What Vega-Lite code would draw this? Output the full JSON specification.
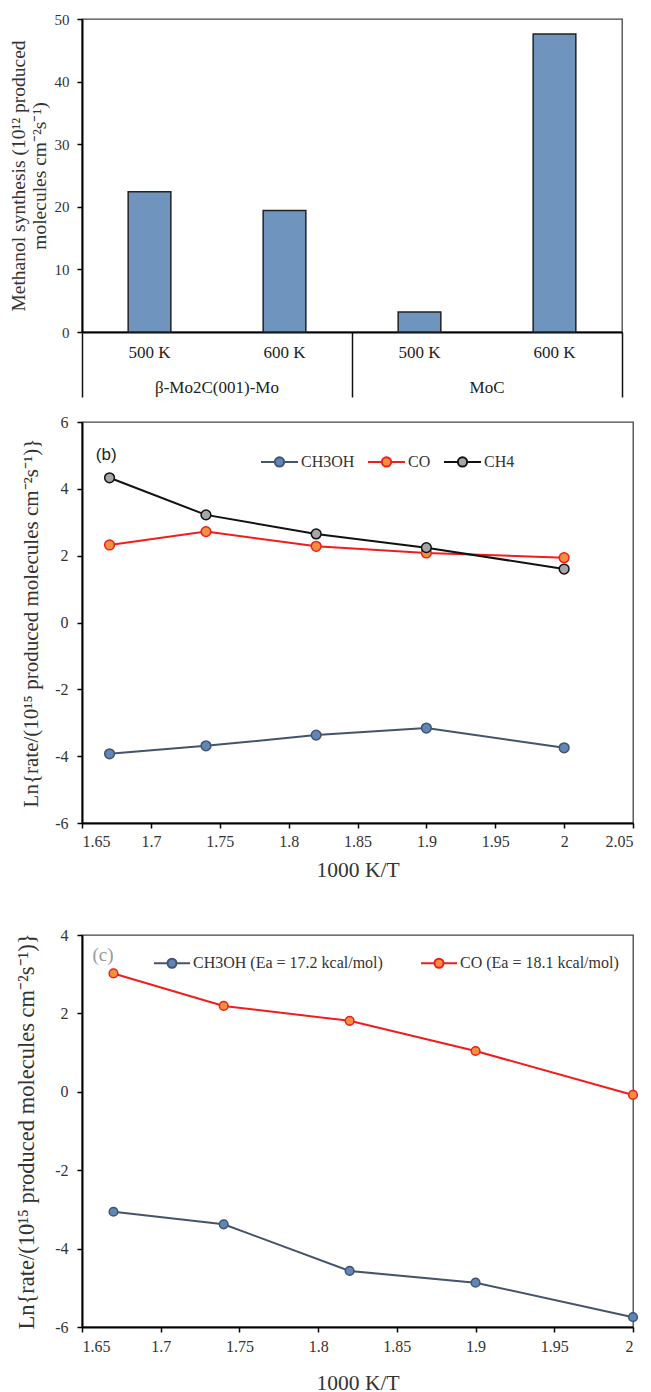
{
  "$schema": "https://vega.github.io/schema/vega-lite/v6.json",
  "padding": {"left": 7, "top": 11, "right": 5, "bottom": 0},
  "config": {
    "font": "Liberation Serif",
    "view": {"stroke": "#444", "strokeWidth": 1.3},
    "axis": {"grid": false, "domainColor": "#000", "domainWidth": 2, "tickColor": "#000", "tickWidth": 1.5, "tickSize": 5,
      "labelColor": "#333", "labelFont": "Liberation Serif", "titleFont": "Liberation Serif", "titleFontWeight": "normal", "titleColor": "#333"},
    "legend": {"labelFont": "Liberation Serif", "labelLimit": 400}
  },
  "spacing": 44,
  "resolve": {"scale": {"color": "independent", "fill": "independent", "stroke": "independent"}, "legend": {"color": "independent", "fill": "independent", "stroke": "independent"}},
  "vconcat": [
    {
      "spacing": 14,
      "resolve": {"scale": {"color": "independent", "fill": "independent", "stroke": "independent"}, "legend": {"color": "independent", "fill": "independent", "stroke": "independent"}},
      "vconcat": [
        {
          "width": 540,
          "height": 313,
          "data": {"values": [
            {"sample": "β-Mo2C(001)-Mo", "temp": "500 K", "rate": 22.4},
            {"sample": "β-Mo2C(001)-Mo", "temp": "600 K", "rate": 19.4},
            {"sample": "MoC", "temp": "500 K", "rate": 3.2},
            {"sample": "MoC", "temp": "600 K", "rate": 47.6}
          ]},
          "encoding": {
            "x": {"field": "sample", "type": "nominal", "sort": null,
              "scale": {"paddingInner": 0, "paddingOuter": 0},
              "axis": {"title": null, "bandPosition": 1, "tickExtra": true, "tickSize": 65, "tickColor": "#111", "tickWidth": 1.5,
                "labelPadding": -18, "labelAngle": 0, "labelFontSize": 17, "labelColor": "#222"}},
            "xOffset": {"field": "temp", "type": "nominal", "sort": null, "scale": {"paddingInner": 0.684, "paddingOuter": 0.342}}
          },
          "layer": [
            {
              "mark": {"type": "bar", "fill": "#6F94BE", "stroke": "#222", "strokeWidth": 1.5},
              "encoding": {
                "y": {"field": "rate", "type": "quantitative", "scale": {"domain": [0, 50], "nice": false},
                  "axis": {"values": [0, 10, 20, 30, 40, 50], "labelFontSize": 15, "labelPadding": 8,
                    "title": ["Methanol synthesis (10¹² produced", "molecules cm⁻²s⁻¹)"], "titleFontSize": 19.5, "titleLineHeight": 21, "titlePadding": 5}}
              }
            },
            {
              "mark": {"type": "text", "fontSize": 17, "baseline": "middle", "align": "center", "color": "#222"},
              "encoding": {
                "y": {"datum": -3.4, "type": "quantitative"},
                "text": {"field": "temp"}
              }
            }
          ]
        },
        {
          "width": 551,
          "height": 401,
          "data": {"values": [
            {"series": "CH3OH", "x": 1.67, "y": -3.93}, {"series": "CH3OH", "x": 1.74, "y": -3.69}, {"series": "CH3OH", "x": 1.82, "y": -3.37}, {"series": "CH3OH", "x": 1.9, "y": -3.16}, {"series": "CH3OH", "x": 2.0, "y": -3.75},
            {"series": "CO", "x": 1.67, "y": 2.32}, {"series": "CO", "x": 1.74, "y": 2.72}, {"series": "CO", "x": 1.82, "y": 2.28}, {"series": "CO", "x": 1.9, "y": 2.08}, {"series": "CO", "x": 2.0, "y": 1.94},
            {"series": "CH4", "x": 1.67, "y": 4.33}, {"series": "CH4", "x": 1.74, "y": 3.22}, {"series": "CH4", "x": 1.82, "y": 2.65}, {"series": "CH4", "x": 1.9, "y": 2.24}, {"series": "CH4", "x": 2.0, "y": 1.6}
          ]},
          "encoding": {
            "x": {"field": "x", "type": "quantitative", "scale": {"domain": [1.65, 2.05], "nice": false, "zero": false},
              "axis": {"title": "1000 K/T", "values": [1.65, 1.7, 1.75, 1.8, 1.85, 1.9, 1.95, 2, 2.05], "labelExpr": "'' + datum.value",
                "labelFontSize": 16, "labelPadding": 5, "titleFontSize": 21.5, "titlePadding": 10}},
            "y": {"field": "y", "type": "quantitative", "scale": {"domain": [-6, 6], "nice": false, "zero": false},
              "axis": {"title": "Ln{rate/(10¹⁵ produced molecules cm⁻²s⁻¹)}", "values": [-6, -4, -2, 0, 2, 4, 6], "labelExpr": "'' + datum.value",
                "labelFontSize": 16, "labelPadding": 9, "titleFontSize": 21, "titlePadding": 13}}
          },
          "layer": [
            {
              "mark": {"type": "line", "strokeWidth": 2},
              "encoding": {
                "stroke": {"field": "series", "type": "nominal",
                  "scale": {"domain": ["CH3OH", "CO", "CH4"], "range": ["#44546A", "#F21C1C", "#111111"]},
                  "legend": {"title": null, "orient": "none", "legendX": 178, "legendY": 20, "direction": "horizontal", "padding": 0,
                    "symbolType": "M-1,0H-0.25M0.25,0H1M0.25,0A0.25,0.25 0 1,1 -0.25,0A0.25,0.25 0 1,1 0.25,0Z",
                    "symbolSize": 1369, "symbolStrokeWidth": 2, "labelFontSize": 16, "labelColor": "#333", "labelOffset": 2, "columnPadding": 9}}
              }
            },
            {
              "mark": {"type": "point", "shape": "circle", "filled": true, "size": 95, "strokeWidth": 1.5, "opacity": 1},
              "encoding": {
                "stroke": {"field": "series", "type": "nominal",
                  "scale": {"domain": ["CH3OH", "CO", "CH4"], "range": ["#44546A", "#F21C1C", "#111111"]},
                  "legend": {"title": null, "orient": "none", "legendX": 178, "legendY": 20, "direction": "horizontal", "padding": 0,
                    "symbolType": "M-1,0H-0.25M0.25,0H1M0.25,0A0.25,0.25 0 1,1 -0.25,0A0.25,0.25 0 1,1 0.25,0Z",
                    "symbolSize": 1369, "symbolStrokeWidth": 2, "labelFontSize": 16, "labelColor": "#333", "labelOffset": 2, "columnPadding": 9}},
                "fill": {"field": "series", "type": "nominal",
                  "scale": {"domain": ["CH3OH", "CO", "CH4"], "range": ["#5E86B8", "#F0923D", "#A6A6A6"]},
                  "legend": {"title": null, "orient": "none", "legendX": 178, "legendY": 20, "direction": "horizontal", "padding": 0,
                    "symbolType": "M-1,0H-0.25M0.25,0H1M0.25,0A0.25,0.25 0 1,1 -0.25,0A0.25,0.25 0 1,1 0.25,0Z",
                    "symbolSize": 1369, "symbolStrokeWidth": 2, "labelFontSize": 16, "labelColor": "#333", "labelOffset": 2, "columnPadding": 9}}
              }
            },
            {
              "transform": [{"filter": "datum.series == 'CH4' && datum.x == 1.67"}],
              "mark": {"type": "text", "text": "(b)", "font": "Liberation Sans", "fontSize": 17, "align": "left", "baseline": "middle", "color": "#222"},
              "encoding": {"x": {"datum": 1.66, "type": "quantitative"}, "y": {"datum": 5.0, "type": "quantitative"}}
            }
          ]
        }
      ]
    },
    {
      "width": 551,
      "height": 392,
      "data": {"values": [
        {"series": "CH3OH (Ea = 17.2 kcal/mol)", "x": 1.67, "y": -3.06}, {"series": "CH3OH (Ea = 17.2 kcal/mol)", "x": 1.74, "y": -3.38}, {"series": "CH3OH (Ea = 17.2 kcal/mol)", "x": 1.82, "y": -4.57}, {"series": "CH3OH (Ea = 17.2 kcal/mol)", "x": 1.9, "y": -4.87}, {"series": "CH3OH (Ea = 17.2 kcal/mol)", "x": 2.0, "y": -5.75},
        {"series": "CO (Ea = 18.1 kcal/mol)", "x": 1.67, "y": 3.02}, {"series": "CO (Ea = 18.1 kcal/mol)", "x": 1.74, "y": 2.19}, {"series": "CO (Ea = 18.1 kcal/mol)", "x": 1.82, "y": 1.81}, {"series": "CO (Ea = 18.1 kcal/mol)", "x": 1.9, "y": 1.04}, {"series": "CO (Ea = 18.1 kcal/mol)", "x": 2.0, "y": -0.08}
      ]},
      "encoding": {
        "x": {"field": "x", "type": "quantitative", "scale": {"domain": [1.65, 2.0], "nice": false, "zero": false},
          "axis": {"title": "1000 K/T", "values": [1.65, 1.7, 1.75, 1.8, 1.85, 1.9, 1.95, 2], "labelExpr": "'' + datum.value",
            "labelFontSize": 16, "labelPadding": 6, "titleFontSize": 21.5, "titlePadding": 18}},
        "y": {"field": "y", "type": "quantitative", "scale": {"domain": [-6, 4], "nice": false, "zero": false},
          "axis": {"title": "Ln{rate/(10¹⁵ produced molecules cm⁻²s⁻¹)}", "values": [-6, -4, -2, 0, 2, 4], "labelExpr": "'' + datum.value",
            "labelFontSize": 16, "labelPadding": 9, "titleFontSize": 22.5, "titlePadding": 16}}
      },
      "layer": [
        {
          "mark": {"type": "line", "strokeWidth": 2},
          "encoding": {
            "stroke": {"field": "series", "type": "nominal",
              "scale": {"domain": ["CH3OH (Ea = 17.2 kcal/mol)", "CO (Ea = 18.1 kcal/mol)"], "range": ["#44546A", "#F21C1C"]},
              "legend": {"title": null, "orient": "none", "legendX": 71, "legendY": 9, "direction": "horizontal", "padding": 0,
                "symbolType": "M-1,0H-0.25M0.25,0H1M0.25,0A0.25,0.25 0 1,1 -0.25,0A0.25,0.25 0 1,1 0.25,0Z",
                "symbolSize": 1296, "symbolStrokeWidth": 2, "labelFontSize": 16, "labelColor": "#333", "labelOffset": 2, "columnPadding": 34}}
          }
        },
        {
          "mark": {"type": "point", "shape": "circle", "filled": true, "size": 75, "strokeWidth": 1.5, "opacity": 1},
          "encoding": {
            "stroke": {"field": "series", "type": "nominal",
              "scale": {"domain": ["CH3OH (Ea = 17.2 kcal/mol)", "CO (Ea = 18.1 kcal/mol)"], "range": ["#44546A", "#F21C1C"]},
              "legend": {"title": null, "orient": "none", "legendX": 71, "legendY": 9, "direction": "horizontal", "padding": 0,
                "symbolType": "M-1,0H-0.25M0.25,0H1M0.25,0A0.25,0.25 0 1,1 -0.25,0A0.25,0.25 0 1,1 0.25,0Z",
                "symbolSize": 1296, "symbolStrokeWidth": 2, "labelFontSize": 16, "labelColor": "#333", "labelOffset": 2, "columnPadding": 34}},
            "fill": {"field": "series", "type": "nominal",
              "scale": {"domain": ["CH3OH (Ea = 17.2 kcal/mol)", "CO (Ea = 18.1 kcal/mol)"], "range": ["#5E86B8", "#F0923D"]},
              "legend": {"title": null, "orient": "none", "legendX": 71, "legendY": 9, "direction": "horizontal", "padding": 0,
                "symbolType": "M-1,0H-0.25M0.25,0H1M0.25,0A0.25,0.25 0 1,1 -0.25,0A0.25,0.25 0 1,1 0.25,0Z",
                "symbolSize": 1296, "symbolStrokeWidth": 2, "labelFontSize": 16, "labelColor": "#333", "labelOffset": 2, "columnPadding": 34}}
          }
        },
        {
          "transform": [{"filter": "datum.series == 'CO (Ea = 18.1 kcal/mol)' && datum.x == 1.67"}],
          "mark": {"type": "text", "text": "(c)", "fontSize": 19, "align": "center", "baseline": "middle", "color": "#999"},
          "encoding": {"x": {"datum": 1.6633, "type": "quantitative"}, "y": {"datum": 3.5, "type": "quantitative"}}
        }
      ]
    }
  ]
}
